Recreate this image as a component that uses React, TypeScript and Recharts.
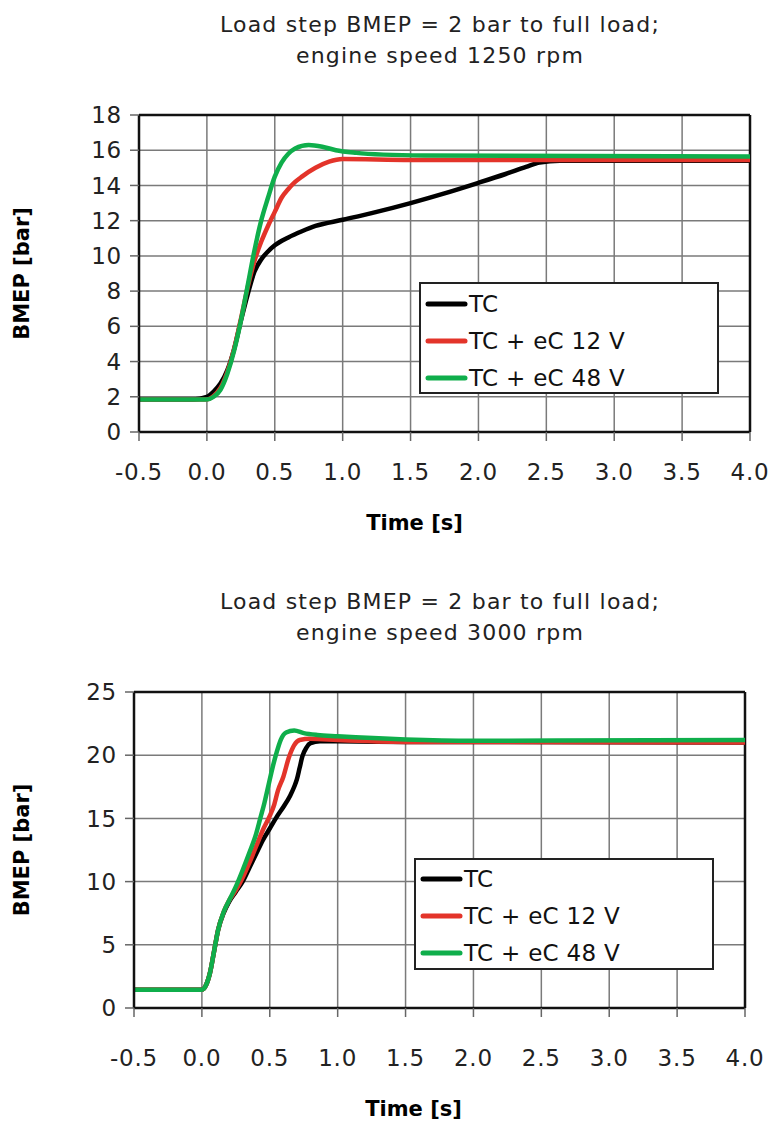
import React from 'react';
import { LineChart, Line, XAxis, YAxis, CartesianGrid, ReferenceLine, Legend } from 'recharts';

// time axis ticks shared by both charts
const timeTicks = [-0.5, 0, 0.5, 1, 1.5, 2, 2.5, 3, 3.5, 4];

// 1250 rpm
const lowTicks = [0, 2, 4, 6, 8, 10, 12, 14, 16, 18];
const lowTcTime = [-0.5, -0.1, 0, 0.05, 0.1, 0.15, 0.2, 0.25, 0.3, 0.35, 0.4, 0.45, 0.5, 0.6, 0.7, 0.8, 1.0, 1.25, 1.5, 1.75, 2.0, 2.2, 2.35, 2.45, 2.6, 3.0, 4.0];
const lowTcBmep = [1.85, 1.85, 2.0, 2.3, 2.75, 3.5, 4.7, 6.3, 7.8, 9.1, 9.8, 10.25, 10.6, 11.05, 11.4, 11.7, 12.05, 12.5, 13.0, 13.55, 14.15, 14.65, 15.05, 15.3, 15.4, 15.4, 15.4];
const low12Time = [-0.5, 0, 0.05, 0.1, 0.15, 0.2, 0.25, 0.3, 0.35, 0.4, 0.45, 0.5, 0.55, 0.6, 0.65, 0.7, 0.8, 0.9, 1.0, 1.5, 4.0];
const low12Bmep = [1.85, 1.85, 2.05, 2.5, 3.4, 4.7, 6.4, 8.2, 9.7, 10.8, 11.7, 12.5, 13.3, 13.8, 14.2, 14.5, 15.0, 15.35, 15.5, 15.45, 15.45];
const low48Time = [-0.5, 0, 0.05, 0.1, 0.15, 0.2, 0.25, 0.3, 0.35, 0.4, 0.45, 0.5, 0.55, 0.6, 0.65, 0.75, 0.85, 0.95, 1.1, 1.3, 1.6, 4.0];
const low48Bmep = [1.85, 1.85, 2.0, 2.4, 3.3, 4.6, 6.3, 8.3, 10.3, 12.0, 13.3, 14.5, 15.3, 15.8, 16.1, 16.3, 16.2, 16.0, 15.85, 15.75, 15.7, 15.65];

// 3000 rpm
const highTicks = [0, 5, 10, 15, 20, 25];
const highTcTime = [-0.5, 0, 0.03, 0.06, 0.09, 0.12, 0.16, 0.2, 0.25, 0.3, 0.35, 0.4, 0.45, 0.5, 0.55, 0.6, 0.65, 0.68, 0.7, 0.72, 0.74, 0.77, 0.8, 0.87, 1.0, 1.5, 4.0];
const highTcBmep = [1.45, 1.45, 1.8, 2.8, 4.5, 6.2, 7.5, 8.4, 9.2, 10.0, 11.1, 12.2, 13.3, 14.2, 15.1, 15.9, 16.8, 17.5, 18.1, 19.0, 19.9, 20.6, 20.95, 21.1, 21.1, 21.05, 21.0];
const high12Time = [-0.5, 0, 0.03, 0.06, 0.09, 0.12, 0.16, 0.2, 0.25, 0.3, 0.35, 0.4, 0.45, 0.5, 0.53, 0.56, 0.6, 0.64, 0.68, 0.72, 0.8, 1.0, 1.5, 4.0];
const high12Bmep = [1.45, 1.45, 1.8, 2.8, 4.5, 6.2, 7.6, 8.5, 9.3, 10.3, 11.5, 12.8, 14.1, 15.2, 16.0, 17.2, 18.3, 19.8, 20.8, 21.2, 21.3, 21.2, 21.05, 21.0];
const high48Time = [-0.5, 0, 0.03, 0.06, 0.09, 0.12, 0.16, 0.2, 0.25, 0.3, 0.35, 0.4, 0.43, 0.46, 0.49, 0.52, 0.55, 0.58, 0.62, 0.68, 0.75, 0.85, 1.0, 1.5, 2.0, 4.0];
const high48Bmep = [1.45, 1.45, 1.8, 2.8, 4.5, 6.2, 7.6, 8.5, 9.6, 10.9, 12.3, 13.8, 15.0, 16.2, 17.6, 19.0, 20.2, 21.2, 21.8, 21.95, 21.75, 21.6, 21.5, 21.25, 21.15, 21.2];

const seriesNames = ['TC', 'TC + eC 12 V', 'TC + eC 48 V'];
const seriesColors = ['#000000', '#e3342a', '#0fae4b'];

const toPoints = (t: number[], v: number[]) => t.map((x, i) => ({ t: x, bmep: v[i] }));

const tickFont = { fill: '#222', fontSize: 23, fontFamily: 'DejaVu Sans', letterSpacing: 0.8 };
const labelFont = { fill: '#000', fontSize: 21, fontWeight: 'bold', fontFamily: 'DejaVu Sans' } as const;

const LegendBox = ({ rowTop }: { rowTop: number }) => (
  <div style={{ width: 300, height: 112, boxSizing: 'border-box', border: '2px solid #222', background: '#fff', paddingTop: rowTop }}>
    {seriesNames.map((name, i) => (
      <div key={name} style={{ height: 37, display: 'flex', alignItems: 'center' }}>
        <svg width={44} height={10} style={{ marginLeft: 4 }}>
          <line x1={3} y1={5} x2={40} y2={5} stroke={seriesColors[i]} strokeWidth={5} strokeLinecap="round" />
        </svg>
        <span style={{ fontFamily: 'DejaVu Sans', fontSize: 23, letterSpacing: 0.3, color: '#111' }}>{name}</span>
      </div>
    ))}
  </div>
);

interface PanelProps {
  top: number;
  height: number;
  marginTop: number;
  marginRight: number;
  yWidth: number;
  xHeight: number;
  yMax: number;
  yTicks: number[];
  series: { t: number; bmep: number }[][];
  xTickMargin: number;
  xLabelOffset: number;
  xLabelDx: number;
  legendLeft: number;
  legendTop: number;
  legendRowTop: number;
  title: string[];
  titleTop: number;
}

const Panel = (p: PanelProps) => (
  <div style={{ position: 'absolute', left: 0, top: p.top, width: 774, height: p.height }}>
    <div style={{ position: 'absolute', left: 190, top: p.titleTop, width: 500, textAlign: 'center', fontFamily: 'DejaVu Sans', fontSize: 22, letterSpacing: 1.2, lineHeight: '31px', color: '#222' }}>
      {p.title.map(l => <div key={l}>{l}</div>)}
    </div>
    <LineChart width={774} height={p.height} margin={{ top: p.marginTop, right: p.marginRight, left: 0, bottom: 0 }}>
      <CartesianGrid stroke="#7a7a7a" strokeWidth={1.5} />
      <XAxis
        type="number"
        dataKey="t"
        domain={[-0.5, 4]}
        ticks={timeTicks}
        allowDataOverflow
        tickFormatter={(v: number) => v.toFixed(1)}
        height={p.xHeight}
        tickSize={9}
        tickMargin={p.xTickMargin}
        tick={tickFont}
        tickLine={{ stroke: '#666', strokeWidth: 1.5 }}
        axisLine={{ stroke: '#111', strokeWidth: 2.5 }}
        label={{ value: 'Time [s]', position: 'insideBottom', offset: p.xLabelOffset, dx: p.xLabelDx, style: labelFont }}
      />
      <YAxis
        type="number"
        dataKey="bmep"
        domain={[0, p.yMax]}
        ticks={p.yTicks}
        width={p.yWidth}
        tickSize={9}
        tickMargin={8}
        tick={tickFont}
        tickLine={{ stroke: '#666', strokeWidth: 1.5 }}
        axisLine={{ stroke: '#111', strokeWidth: 2.5 }}
        label={{ value: 'BMEP [bar]', angle: -90, position: 'insideLeft', offset: 22, style: { ...labelFont, textAnchor: 'middle' } }}
      />
      <ReferenceLine y={p.yMax} stroke="#111" strokeWidth={2.5} />
      <ReferenceLine x={4} stroke="#111" strokeWidth={2.5} />
      {p.series.map((d, i) => (
        <Line
          key={seriesNames[i]}
          data={d}
          dataKey="bmep"
          name={seriesNames[i]}
          type="monotone"
          stroke={seriesColors[i]}
          strokeWidth={4.5}
          dot={false}
          activeDot={false}
          isAnimationActive={false}
        />
      ))}
      <Legend
        layout="horizontal"
        verticalAlign="middle"
        align="center"
        content={() => <LegendBox rowTop={p.legendRowTop} />}
        wrapperStyle={{ left: p.legendLeft, top: p.legendTop, width: 300, height: 112 }}
      />
    </LineChart>
  </div>
);

export default function App() {
  return (
    <div style={{ position: 'absolute', left: 0, top: 0, width: 774, height: 1122, background: '#fff' }}>
      <Panel
        top={0}
        height={545}
        marginTop={115}
        marginRight={24}
        yWidth={139}
        xHeight={113}
        yMax={18}
        yTicks={lowTicks}
        series={[toPoints(lowTcTime, lowTcBmep), toPoints(low12Time, low12Bmep), toPoints(low48Time, low48Bmep)]}
        xTickMargin={23}
        xLabelOffset={15}
        xLabelDx={-30}
        legendLeft={419}
        legendTop={282}
        legendRowTop={1}
        title={['Load step BMEP = 2 bar to full load;', 'engine speed 1250 rpm']}
        titleTop={9}
      />
      <Panel
        top={560}
        height={562}
        marginTop={132}
        marginRight={29}
        yWidth={134}
        xHeight={114}
        yMax={25}
        yTicks={highTicks}
        series={[toPoints(highTcTime, highTcBmep), toPoints(high12Time, high12Bmep), toPoints(high48Time, high48Bmep)]}
        xTickMargin={33}
        xLabelOffset={6}
        xLabelDx={-26}
        legendLeft={414}
        legendTop={298}
        legendRowTop={0}
        title={['Load step BMEP = 2 bar to full load;', 'engine speed 3000 rpm']}
        titleTop={26}
      />
    </div>
  );
}
